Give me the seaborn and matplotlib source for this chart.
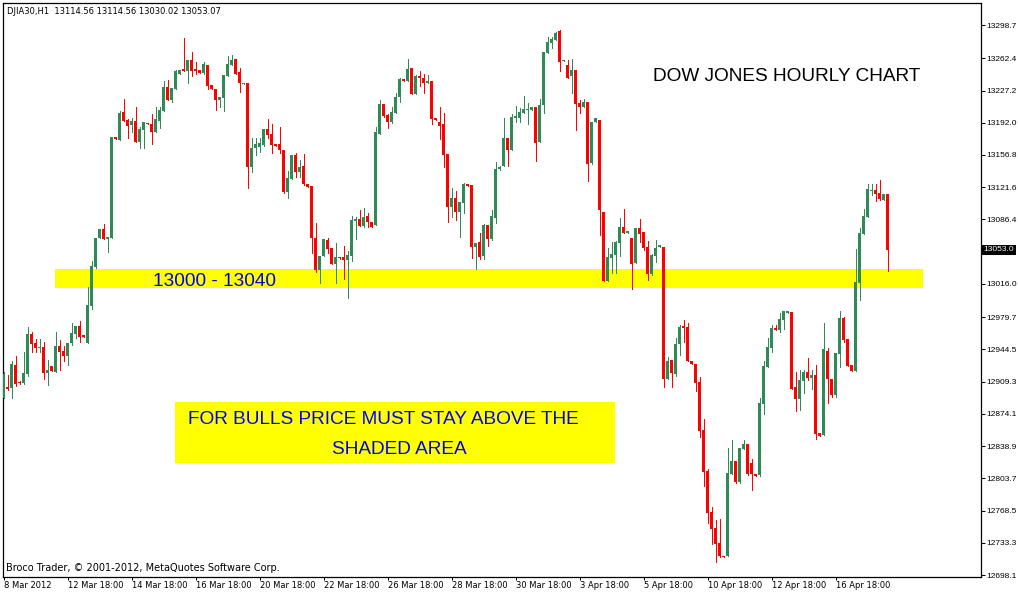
import numpy as np
import pandas as pd
import matplotlib
matplotlib.use("Agg")
import matplotlib.pyplot as plt
import seaborn as sns
from matplotlib.patches import Rectangle

# ---------------- data (DJIA30, H1) ----------------
opens = [
    12891, 12903, 12902, 12927, 12909, 12908, 12918, 12961, 12951, 12946,
    12947, 12919, 12926, 12920, 12948, 12943, 12937, 12951, 12961, 12970,
    12960, 12951, 12992, 13034, 13066, 13076, 13065, 13066, 13176, 13173,
    13204, 13195, 13189, 13194, 13171, 13184, 13192, 13191, 13182, 13194,
    13205, 13231, 13217, 13229, 13245, 13251, 13248, 13260, 13251, 13250,
    13246, 13255, 13233, 13229, 13217, 13219, 13243, 13255, 13262, 13247,
    13234, 13235, 13144, 13164, 13165, 13168, 13185, 13180, 13169, 13169,
    13162, 13116, 13131, 13157, 13138, 13145, 13125, 13123, 13066, 13031,
    13046, 13064, 13055, 13038, 13045, 13045, 13042, 13046, 13085, 13087,
    13079, 13090, 13084, 13080, 13180, 13212, 13200, 13193, 13203, 13220,
    13240, 13238, 13252, 13223, 13243, 13241, 13235, 13238, 13197, 13193,
    13191, 13158, 13100, 13110, 13094, 13104, 13125, 13124, 13056, 13062,
    13046, 13080, 13065, 13088, 13141, 13145, 13175, 13162, 13197, 13197,
    13203, 13206, 13206, 13209, 13171, 13211, 13268, 13279, 13282, 13292,
    13259, 13255, 13243, 13250, 13214, 13209, 13215, 13148, 13193, 13195,
    13094, 13019, 13044, 13048, 13061, 13078, 13072, 13066, 13039, 13077,
    13073, 13056, 13027, 13046, 13056, 13056, 12912, 12933, 12918, 12950,
    12970, 12969, 12932, 12929, 12909, 12856, 12812, 12767, 12749, 12733,
    12719, 12719, 12808, 12823, 12800, 12836, 12841, 12820, 12808, 12807,
    12885, 12925, 12946, 12968, 12966, 12977, 12984, 12985, 12903, 12890,
    12910, 12920, 12913, 12916, 12853, 12851, 12943, 12912, 12895, 12939,
    12979, 12956, 12927, 12921, 13017, 13070, 13089, 13117, 13119, 13115,
    13108, 13114.56,
]
highs = [
    12920, 12916, 12932, 12937, 12910, 12942, 12969, 12963, 12956, 12956,
    12953, 12933, 12926, 12963, 12955, 12948, 12951, 12973, 12970, 12975,
    12960, 13013, 13041, 13066, 13076, 13081, 13067, 13176, 13176, 13205,
    13218, 13196, 13197, 13209, 13187, 13193, 13192, 13202, 13209, 13209,
    13238, 13239, 13230, 13250, 13250, 13285, 13260, 13269, 13258, 13250,
    13258, 13255, 13233, 13229, 13220, 13244, 13265, 13266, 13262, 13252,
    13235, 13235, 13175, 13175, 13175, 13185, 13196, 13191, 13169, 13187,
    13162, 13139, 13157, 13159, 13151, 13158, 13125, 13123, 13082, 13046,
    13065, 13066, 13055, 13061, 13045, 13057, 13052, 13090, 13089, 13097,
    13099, 13093, 13084, 13187, 13217, 13212, 13202, 13209, 13224, 13241,
    13240, 13262, 13252, 13244, 13248, 13245, 13244, 13238, 13197, 13209,
    13203, 13158, 13121, 13117, 13105, 13126, 13125, 13124, 13061, 13072,
    13081, 13080, 13097, 13149, 13145, 13197, 13175, 13202, 13210, 13208,
    13221, 13214, 13209, 13209, 13218, 13269, 13286, 13286, 13291, 13293,
    13260, 13260, 13262, 13250, 13217, 13218, 13215, 13193, 13197, 13195,
    13094, 13055, 13062, 13063, 13088, 13098, 13074, 13066, 13077, 13087,
    13073, 13063, 13049, 13064, 13058, 13056, 12936, 12933, 12957, 12971,
    12977, 12973, 12932, 12929, 12914, 12868, 12814, 12772, 12758, 12759,
    12719, 12837, 12846, 12823, 12837, 12846, 12841, 12825, 12808, 12891,
    12932, 12957, 12971, 12971, 12984, 12986, 12986, 12985, 12920, 12922,
    12922, 12935, 12922, 12927, 12853, 12973, 12946, 12912, 12941, 12986,
    12980, 12956, 12927, 13054, 13077, 13098, 13125, 13125, 13125, 13129,
    13114, 13114.56,
]
lows = [
    12891, 12900, 12891, 12904, 12907, 12907, 12915, 12942, 12942, 12942,
    12912, 12906, 12921, 12920, 12922, 12932, 12927, 12949, 12957, 12953,
    12958, 12951, 12989, 13033, 13066, 13065, 13051, 13066, 13174, 13173,
    13194, 13175, 13182, 13171, 13164, 13164, 13191, 13169, 13182, 13186,
    13205, 13217, 13215, 13229, 13245, 13248, 13235, 13243, 13245, 13246,
    13245, 13229, 13229, 13206, 13209, 13205, 13243, 13255, 13245, 13226,
    13234, 13121, 13138, 13157, 13160, 13167, 13175, 13159, 13167, 13159,
    13115, 13110, 13131, 13133, 13133, 13124, 13122, 13050, 13029, 13017,
    13046, 13050, 13038, 13017, 13043, 13021, 13001, 13041, 13065, 13079,
    13078, 13078, 13078, 13080, 13180, 13198, 13186, 13192, 13203, 13215,
    13238, 13238, 13223, 13223, 13232, 13224, 13235, 13191, 13195, 13174,
    13144, 13084, 13089, 13086, 13067, 13093, 13123, 13044, 13032, 13043,
    13043, 13057, 13064, 13082, 13140, 13145, 13145, 13162, 13193, 13193,
    13203, 13191, 13206, 13150, 13171, 13203, 13268, 13274, 13282, 13248,
    13259, 13241, 13224, 13184, 13203, 13209, 13128, 13147, 13193, 13069,
    13019, 13019, 13028, 13028, 13046, 13072, 13072, 13010, 13039, 13062,
    13053, 13020, 13026, 13040, 13056, 12903, 12912, 12903, 12915, 12938,
    12953, 12932, 12929, 12899, 12849, 12795, 12755, 12732, 12712, 12718,
    12718, 12719, 12808, 12799, 12799, 12836, 12807, 12791, 12806, 12806,
    12874, 12925, 12942, 12966, 12963, 12967, 12984, 12901, 12877, 12878,
    12897, 12911, 12901, 12847, 12850, 12851, 12886, 12892, 12892, 12925,
    12953, 12926, 12921, 12921, 12998, 13070, 13089, 13113, 13107, 13108,
    13108, 13030.02,
]
closes = [
    12918, 12901, 12929, 12907, 12908, 12919, 12961, 12950, 12946, 12947,
    12919, 12922, 12921, 12948, 12942, 12937, 12951, 12962, 12970, 12958,
    12958, 12993, 13036, 13066, 13076, 13065, 13067, 13176, 13174, 13203,
    13194, 13188, 13194, 13171, 13185, 13193, 13191, 13182, 13196, 13206,
    13231, 13217, 13230, 13248, 13250, 13248, 13260, 13248, 13248, 13246,
    13256, 13232, 13229, 13217, 13220, 13244, 13256, 13260, 13245, 13235,
    13235, 13144, 13164, 13169, 13170, 13185, 13179, 13168, 13167, 13162,
    13116, 13132, 13157, 13138, 13144, 13125, 13122, 13066, 13031, 13046,
    13065, 13054, 13038, 13045, 13044, 13042, 13048, 13086, 13087, 13079,
    13089, 13084, 13078, 13182, 13212, 13199, 13193, 13204, 13220, 13240,
    13238, 13251, 13223, 13243, 13241, 13235, 13238, 13196, 13195, 13188,
    13157, 13100, 13110, 13094, 13105, 13125, 13123, 13056, 13061, 13045,
    13080, 13065, 13090, 13141, 13144, 13175, 13162, 13198, 13199, 13204,
    13207, 13207, 13209, 13170, 13211, 13269, 13280, 13283, 13290, 13258,
    13260, 13241, 13250, 13212, 13209, 13215, 13147, 13193, 13197, 13097,
    13019, 13045, 13049, 13062, 13078, 13072, 13074, 13038, 13077, 13070,
    13055, 13027, 13048, 13055, 13058, 12912, 12932, 12919, 12950, 12969,
    12968, 12932, 12929, 12908, 12855, 12811, 12766, 12748, 12732, 12719,
    12718, 12809, 12823, 12800, 12837, 12841, 12808, 12808, 12806, 12886,
    12926, 12947, 12968, 12966, 12978, 12986, 12986, 12901, 12890, 12911,
    12920, 12913, 12916, 12852, 12850, 12945, 12912, 12895, 12941, 12979,
    12955, 12926, 12921, 13018, 13072, 13090, 13120, 13119, 13114, 13109,
    13114, 13053.07,
]

date_labels = ["8 Mar 2012", "12 Mar 18:00", "14 Mar 18:00", "16 Mar 18:00",
               "20 Mar 18:00", "22 Mar 18:00", "26 Mar 18:00", "28 Mar 18:00",
               "30 Mar 18:00", "3 Apr 18:00", "5 Apr 18:00", "10 Apr 18:00",
               "12 Apr 18:00", "16 Apr 18:00"]
bars_per_label = 16

price_ticks = [13298.7, 13262.4, 13227.2, 13192.0, 13156.8, 13121.6, 13086.4,
               13016.0, 12979.7, 12944.5, 12909.3, 12874.1, 12838.9, 12803.7,
               12768.5, 12733.3, 12698.1]

zone_low, zone_high = 13012.0, 13032.3        # shaded support area
zone_start, zone_end = 12.9, 229.8            # in bars
note_low, note_high = 12820.7, 12886.7        # note box
note_start, note_end = 42.9, 152.9

# ---------------- styling ----------------
sns.set_theme(style="white")
plt.rcParams["font.family"] = ["DejaVu Sans"]

W, H = 1018, 592
GREEN = "#2E8B57"
RED = "#FF0000"
YELLOW = "#FFFF00"
BLUE = "#0000FF"
AXFONT = ["Liberation Sans", "DejaVu Sans"]

df = pd.DataFrame({"open": opens, "high": highs, "low": lows, "close": closes})
df["bar"] = np.arange(len(df))
df["high"] = df[["high", "open", "close"]].max(axis=1)
df["low"] = df[["low", "open", "close"]].min(axis=1)
df["up"] = df["close"] >= df["open"]
df["color"] = np.where(df["up"], GREEN, RED)
df["bottom"] = df[["open", "close"]].min(axis=1)
df["height"] = (df["close"] - df["open"]).abs().clip(lower=1.1)

fig = plt.figure(figsize=(W / 100, H / 100), dpi=100)
fig.patch.set_facecolor("white")
ax = fig.add_axes([2.5 / W, 1 - 576.5 / H, 978 / W, 574 / H])
ax.set_facecolor("white")
ax.set_xlim(-0.25, 244.25)
ax.set_ylim(12696.5, 13323.3)

# shaded areas
ax.add_patch(Rectangle((zone_start, zone_low), zone_end - zone_start,
                       zone_high - zone_low, facecolor=YELLOW, edgecolor="none", zorder=1))
ax.add_patch(Rectangle((note_start, note_low), note_end - note_start,
                       note_high - note_low, facecolor=YELLOW, edgecolor="none", zorder=1))

# candles
ax.vlines(df["bar"], df["low"], df["high"], colors=df["color"], linewidth=0.72,
          antialiased=False, zorder=2)
ax.bar(df["bar"], df["height"], bottom=df["bottom"], width=0.75, color=df["color"],
       linewidth=0, antialiased=False, zorder=3)

# axes
for s in ax.spines.values():
    s.set_visible(True)
    s.set_color("black")
    s.set_linewidth(0.9)
ax.grid(False)
ax.yaxis.tick_right()
ax.set_yticks(price_ticks)
ax.set_yticklabels([f"{v:.1f}" for v in price_ticks], family=AXFONT)
ax.tick_params(axis="y", direction="out", length=2.6, width=0.72, pad=1.8,
               labelsize=6, colors="black", right=True, left=False)
xt = [i * bars_per_label for i in range(len(date_labels))]
ax.set_xticks(xt)
ax.set_xticklabels(date_labels)
ax.tick_params(axis="x", direction="out", length=2.4, width=0.72, pad=1.0,
               labelsize=6, colors="black", bottom=True)
for lab in ax.get_xticklabels():
    lab.set_ha("left")

# current price marker (price scale shows one decimal, truncated)
last_label = f"{np.floor(closes[-1] * 10) / 10:.1f}"
ax.annotate(last_label, xy=(1, closes[-1]), xycoords=ax.get_yaxis_transform(),
            xytext=(3.2, 0), textcoords="offset pixels", va="center", ha="left",
            fontsize=6, family=AXFONT, color="white", annotation_clip=False,
            bbox=dict(boxstyle="square,pad=0.2", fc="black", ec="none"), zorder=5)


def ptext(px, py, s, **kw):
    fig.text(px / W, 1 - py / H, s, **kw)


ptext(7, 13.5, f"DJIA30,H1  {opens[-1]:.2f} {highs[-1]:.2f} {lows[-1]:.2f} {closes[-1]:.2f}",
      fontsize=6, color="black", va="baseline")
ptext(6, 571, "Broco Trader, \u00a9 2001-2012, MetaQuotes Software Corp.",
      fontsize=7, color="black", va="baseline")

big = dict(family=["Liberation Sans", "DejaVu Sans"], fontsize=13.7, va="baseline", ha="left")
ptext(652.7, 81, "DOW JONES HOURLY CHART", color="black", **big)
ptext(153, 286, "13000 - 13040", color=BLUE, **big)
ptext(188, 424.3, "FOR BULLS PRICE MUST STAY ABOVE THE", color=BLUE, **big)
ptext(332, 454.3, "SHADED AREA", color=BLUE, **big)

fig.savefig("out.png", dpi=100)
